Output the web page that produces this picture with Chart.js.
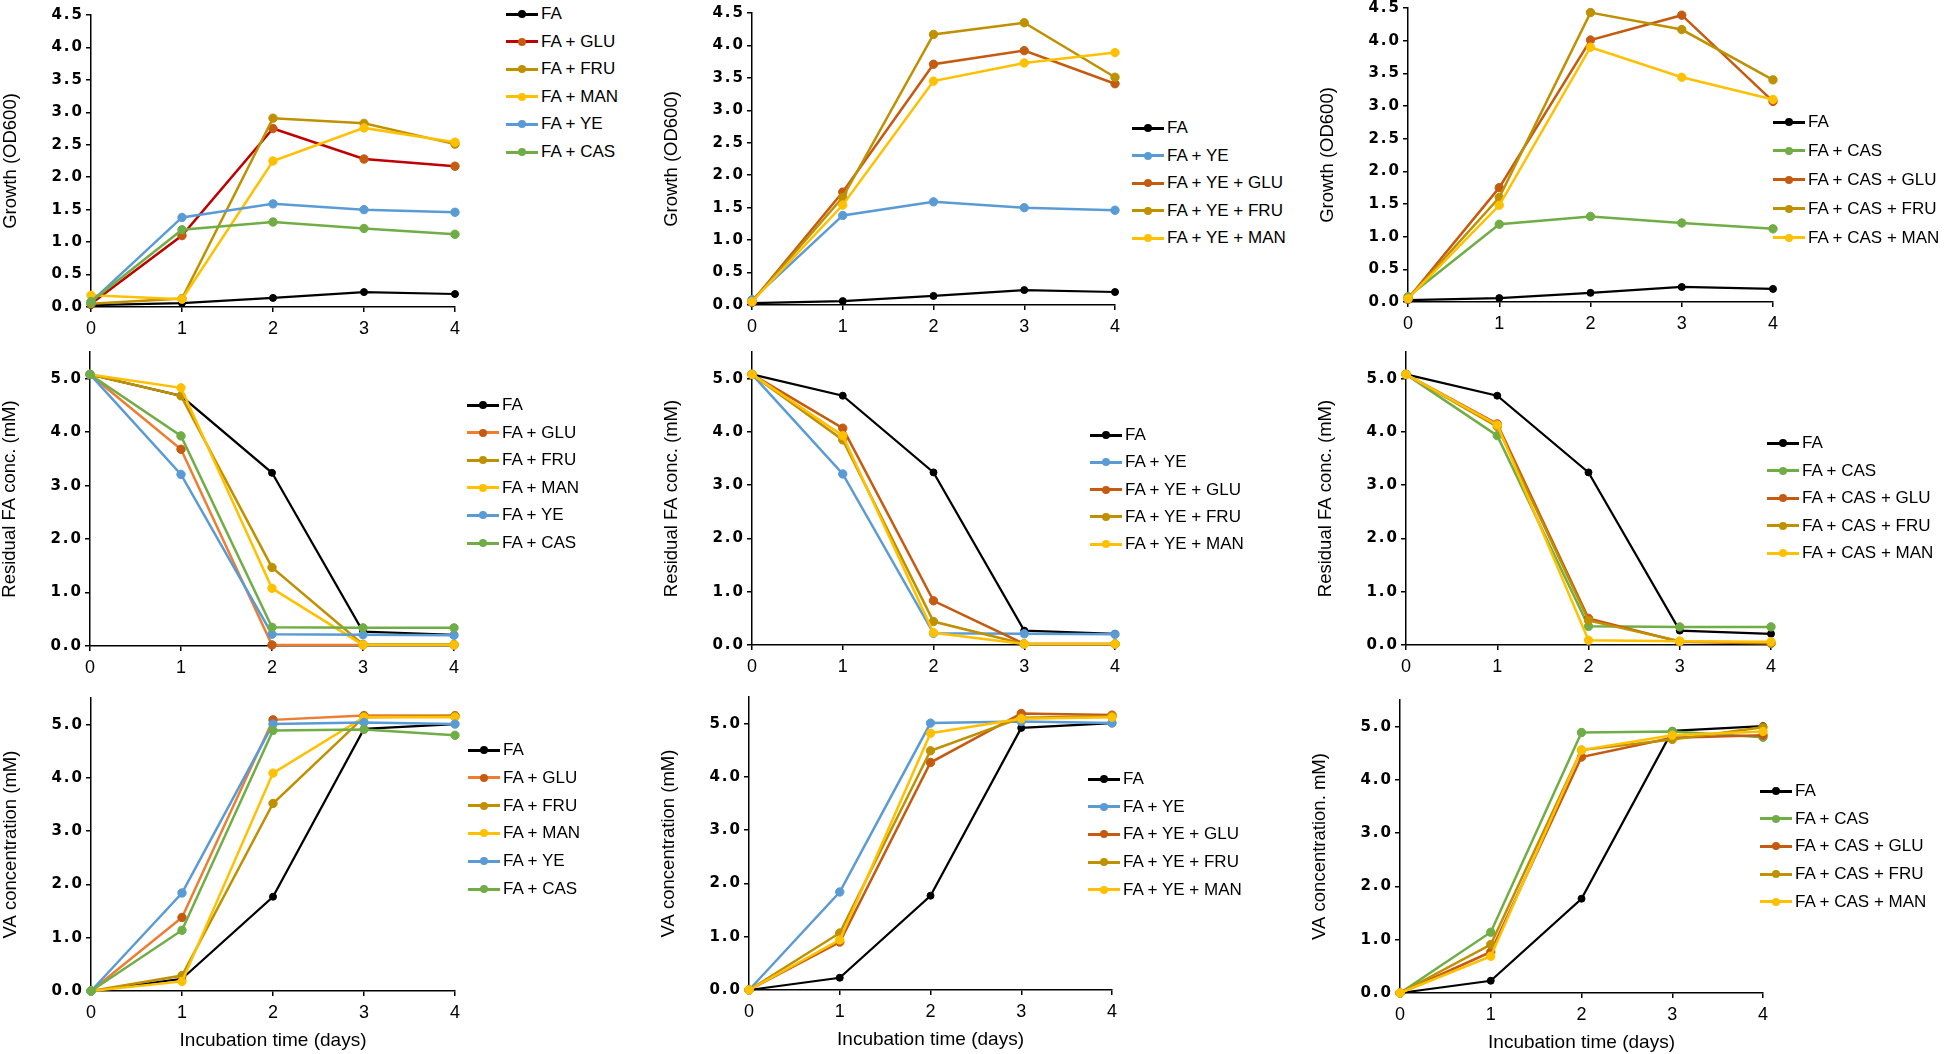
<!DOCTYPE html>
<html>
<head>
<meta charset="utf-8">
<script src="https://cdn.jsdelivr.net/npm/chart.js@4.4.1/dist/chart.umd.min.js"></script>
<style>
body { margin: 0; background: #fff; width: 1945px; height: 1054px; position: relative; overflow: hidden; font-family: 'Liberation Sans', Arial, sans-serif; }
.panel { position: absolute; }
.legend { position: absolute; font-size: 17px; color: #000; }
.legend .row { position: absolute; left: 0; height: 20px; display: flex; align-items: center; white-space: nowrap; }
.legend .ln { position: relative; width: 32px; height: 3px; margin-right: 3px; }
.legend .dot { position: absolute; left: 12px; top: -2.5px; width: 8px; height: 8px; border-radius: 50%; }
</style>
</head>
<body>
<script>
const days = [0, 1, 2, 3, 4];

// growth (OD600)
const growthFA = [0.03, 0.06, 0.14, 0.23, 0.20];
const growthGLU = [0.05, 1.10, 2.75, 2.28, 2.17];
const growthFRU = [0.05, 0.13, 2.91, 2.83, 2.51];
const growthMAN = [0.18, 0.12, 2.25, 2.76, 2.54];
const growthYE = [0.08, 1.38, 1.59, 1.50, 1.46];
const growthCAS = [0.08, 1.19, 1.31, 1.21, 1.12];
const growthYeGLU = [0.05, 1.74, 3.71, 3.92, 3.41];
const growthYeFRU = [0.05, 1.66, 4.17, 4.35, 3.51];
const growthYeMAN = [0.05, 1.54, 3.45, 3.73, 3.89];
const growthCasGLU = [0.05, 1.75, 4.01, 4.39, 3.07];
const growthCasFRU = [0.05, 1.60, 4.43, 4.17, 3.40];
const growthCasMAN = [0.05, 1.48, 3.90, 3.44, 3.10];

// residual FA (mM)
const residFA = [5.08, 4.68, 3.24, 0.27, 0.21];
const residGLU = [5.08, 3.68, 0.02, 0.02, 0.02];
const residFRU = [5.08, 4.68, 1.47, 0.03, 0.03];
const residMAN = [5.08, 4.83, 1.08, 0.02, 0.02];
const residYE = [5.08, 3.21, 0.22, 0.21, 0.20];
const residCAS = [5.08, 3.93, 0.35, 0.34, 0.34];
const residYeGLU = [5.08, 4.07, 0.83, 0.02, 0.02];
const residYeFRU = [5.08, 3.85, 0.44, 0.02, 0.02];
const residYeMAN = [5.08, 3.93, 0.23, 0.02, 0.02];
const residCasGLU = [5.08, 4.15, 0.50, 0.06, 0.03];
const residCasFRU = [5.08, 4.10, 0.46, 0.07, 0.04];
const residCasMAN = [5.08, 4.13, 0.09, 0.07, 0.06];

// VA (mM)
const vaFA = [0, 0.23, 1.77, 4.92, 5.01];
const vaGLU = [0, 1.38, 5.09, 5.17, 5.17];
const vaFRU = [0, 0.29, 3.52, 5.14, 5.16];
const vaMAN = [0, 0.18, 4.09, 5.14, 5.14];
const vaYE = [0, 1.84, 5.01, 5.04, 5.01];
const vaCAS = [0, 1.14, 4.89, 4.91, 4.80];
const vaYeGLU = [0, 0.90, 4.27, 5.19, 5.16];
const vaYeFRU = [0, 1.07, 4.49, 5.11, 5.14];
const vaYeMAN = [0, 0.94, 4.82, 5.09, 5.12];
const vaCasGLU = [0, 0.77, 4.43, 4.79, 4.84];
const vaCasFRU = [0, 0.91, 4.56, 4.76, 4.99];
const vaCasMAN = [0, 0.69, 4.56, 4.84, 4.91];

const BLACK = '#000000', RED = '#C00000', ORANGE = '#C55A11', LORANGE = '#ED7D31';
const GOLD = '#BF9000', YELLOW = '#FFC000', BLUE = '#5B9BD5', GREEN = '#70AD47';

function s(label, data, line, point) {
    return { label: label, data: data, line: line, point: point || line };
}

// stretch the y tick labels a bit, like the source figure
const wideTicks = {
    id: 'wideTicks',
    beforeDraw(chart) {
        const sc = chart.scales.y;
        if (sc._wide) return;
        const orig = sc.drawLabels.bind(sc);
        sc.drawLabels = function (area) {
            this.ctx.save();
            this.ctx.letterSpacing = '2px';
            orig(area);
            this.ctx.restore();
        };
        sc._wide = true;
    }
};

function makeLegend(p) {
    const box = document.createElement('div');
    box.className = 'legend';
    box.style.left = p.legend.x + 'px';
    box.style.top = '0px';
    p.series.forEach((sr, i) => {
        const row = document.createElement('div');
        row.className = 'row';
        row.style.top = (p.legend.y + i * p.legend.step - 10) + 'px';
        const ln = document.createElement('span');
        ln.className = 'ln';
        ln.style.background = sr.line;
        const dot = document.createElement('span');
        dot.className = 'dot';
        dot.style.background = sr.point;
        ln.appendChild(dot);
        row.appendChild(ln);
        row.appendChild(document.createTextNode(sr.label));
        box.appendChild(row);
    });
    document.body.appendChild(box);
}

function makePanel(p) {
    const YW = 95, PT = 15, PR = 15;
    const XH = p.xTitle ? 65 : 30;
    const w = Math.round(p.right - p.left + YW + PR);
    const h = Math.round(p.bottom - p.top + PT + XH);
    const wrap = document.createElement('div');
    wrap.className = 'panel';
    wrap.style.left = (p.left - YW) + 'px';
    wrap.style.top = (p.top - PT) + 'px';
    const cv = document.createElement('canvas');
    cv.width = w;
    cv.height = h;
    cv.style.width = w + 'px';
    cv.style.height = h + 'px';
    wrap.appendChild(cv);
    document.body.appendChild(wrap);

    const n = p.series.length;
    const axisLine = { display: true, drawOnChartArea: false, drawTicks: true, tickLength: 5, color: '#000', lineWidth: 1.5 };

    new Chart(cv, {
        type: 'line',
        data: {
            labels: days,
            datasets: p.series.map((sr, i) => ({
                label: sr.label,
                data: sr.data,
                borderColor: sr.line,
                backgroundColor: sr.point,
                pointBackgroundColor: sr.point,
                pointBorderColor: sr.point,
                borderWidth: sr.label === 'FA' ? 2.2 : 2.5,
                pointRadius: sr.label === 'FA' ? 3.5 : 4.2,
                pointBorderWidth: 1,
                tension: 0,
                clip: false,
                order: n - i
            }))
        },
        options: {
            responsive: false,
            animation: false,
            devicePixelRatio: 1,
            layout: { padding: { left: 0, top: PT, right: PR, bottom: 0 } },
            plugins: { legend: { display: false }, tooltip: { enabled: false } },
            scales: {
                x: {
                    offset: false,
                    grid: axisLine,
                    border: { display: true, color: '#000', width: 1.5 },
                    ticks: { color: '#000', padding: 6, maxRotation: 0, font: { family: 'Liberation Sans', size: 18 } },
                    title: {
                        display: !!p.xTitle,
                        text: p.xTitle || '',
                        color: '#000',
                        padding: { top: 2, bottom: 4 },
                        font: { family: 'Liberation Sans', size: 19 }
                    },
                    afterFit: (sc) => { sc.height = XH; }
                },
                y: {
                    min: 0,
                    max: p.ymax,
                    grid: axisLine,
                    border: { display: true, color: '#000', width: 1.5 },
                    ticks: {
                        stepSize: p.step,
                        color: '#000',
                        padding: 2,
                        font: { family: 'DejaVu Sans', size: 15, weight: 'bold' },
                        callback: (v) => Number(v).toFixed(1)
                    },
                    afterBuildTicks: (sc) => {
                        sc.ticks = sc.ticks.filter(t => Math.abs(t.value / p.step - Math.round(t.value / p.step)) < 1e-6);
                    },
                    title: {
                        display: true,
                        text: p.yTitle,
                        color: '#000',
                        padding: { top: 4, bottom: 4 },
                        font: { family: 'Liberation Sans', size: 18.5 }
                    },
                    afterFit: (sc) => { sc.width = YW; }
                }
            }
        },
        plugins: [wideTicks]
    });

    makeLegend(p);
}

const gTitle = 'Growth (OD600)';
const rTitle = 'Residual FA conc. (mM)';
const xLabel = 'Incubation time (days)';

makePanel({
    left: 91, right: 455, top: 15, bottom: 307, ymax: 4.5, step: 0.5, yTitle: gTitle,
    series: [s('FA', growthFA, BLACK), s('FA + GLU', growthGLU, RED, ORANGE), s('FA + FRU', growthFRU, GOLD),
             s('FA + MAN', growthMAN, YELLOW), s('FA + YE', growthYE, BLUE), s('FA + CAS', growthCAS, GREEN)],
    legend: { x: 506, y: 14, step: 27.6 }
});
makePanel({
    left: 752, right: 1115, top: 13, bottom: 305, ymax: 4.5, step: 0.5, yTitle: gTitle,
    series: [s('FA', growthFA, BLACK), s('FA + YE', growthYE, BLUE), s('FA + YE + GLU', growthYeGLU, ORANGE),
             s('FA + YE + FRU', growthYeFRU, GOLD), s('FA + YE + MAN', growthYeMAN, YELLOW)],
    legend: { x: 1132, y: 128, step: 27.5 }
});
makePanel({
    left: 1408, right: 1773, top: 8, bottom: 302, ymax: 4.5, step: 0.5, yTitle: gTitle,
    series: [s('FA', growthFA, BLACK), s('FA + CAS', growthCAS, GREEN), s('FA + CAS + GLU', growthCasGLU, ORANGE),
             s('FA + CAS + FRU', growthCasFRU, GOLD), s('FA + CAS + MAN', growthCasMAN, YELLOW)],
    legend: { x: 1773, y: 122, step: 28.9 }
});

makePanel({
    left: 90, right: 454, top: 352, bottom: 646, ymax: 5.5, step: 1, yTitle: rTitle,
    series: [s('FA', residFA, BLACK), s('FA + GLU', residGLU, LORANGE, ORANGE), s('FA + FRU', residFRU, GOLD),
             s('FA + MAN', residMAN, YELLOW), s('FA + YE', residYE, BLUE), s('FA + CAS', residCAS, GREEN)],
    legend: { x: 467, y: 405, step: 27.6 }
});
makePanel({
    left: 752, right: 1115, top: 352, bottom: 645, ymax: 5.5, step: 1, yTitle: rTitle,
    series: [s('FA', residFA, BLACK), s('FA + YE', residYE, BLUE), s('FA + YE + GLU', residYeGLU, ORANGE),
             s('FA + YE + FRU', residYeFRU, GOLD), s('FA + YE + MAN', residYeMAN, YELLOW)],
    legend: { x: 1090, y: 435, step: 27.3 }
});
makePanel({
    left: 1406, right: 1771, top: 352, bottom: 645, ymax: 5.5, step: 1, yTitle: rTitle,
    series: [s('FA', residFA, BLACK), s('FA + CAS', residCAS, GREEN), s('FA + CAS + GLU', residCasGLU, ORANGE),
             s('FA + CAS + FRU', residCasFRU, GOLD), s('FA + CAS + MAN', residCasMAN, YELLOW)],
    legend: { x: 1767, y: 443, step: 27.5 }
});

makePanel({
    left: 91, right: 455, top: 698, bottom: 991, ymax: 5.5, step: 1, yTitle: 'VA concentration (mM)', xTitle: xLabel,
    series: [s('FA', vaFA, BLACK), s('FA + GLU', vaGLU, LORANGE, ORANGE), s('FA + FRU', vaFRU, GOLD),
             s('FA + MAN', vaMAN, YELLOW), s('FA + YE', vaYE, BLUE), s('FA + CAS', vaCAS, GREEN)],
    legend: { x: 468, y: 750, step: 27.8 }
});
makePanel({
    left: 749, right: 1112, top: 697, bottom: 990, ymax: 5.5, step: 1, yTitle: 'VA concentration (mM)', xTitle: xLabel,
    series: [s('FA', vaFA, BLACK), s('FA + YE', vaYE, BLUE), s('FA + YE + GLU', vaYeGLU, ORANGE),
             s('FA + YE + FRU', vaYeFRU, GOLD), s('FA + YE + MAN', vaYeMAN, YELLOW)],
    legend: { x: 1088, y: 779, step: 27.7 }
});
makePanel({
    left: 1400, right: 1763, top: 700, bottom: 993, ymax: 5.5, step: 1, yTitle: 'VA concentration. mM)', xTitle: xLabel,
    series: [s('FA', vaFA, BLACK), s('FA + CAS', vaCAS, GREEN), s('FA + CAS + GLU', vaCasGLU, ORANGE),
             s('FA + CAS + FRU', vaCasFRU, GOLD), s('FA + CAS + MAN', vaCasMAN, YELLOW)],
    legend: { x: 1760, y: 791, step: 27.7 }
});
</script>
</body>
</html>
